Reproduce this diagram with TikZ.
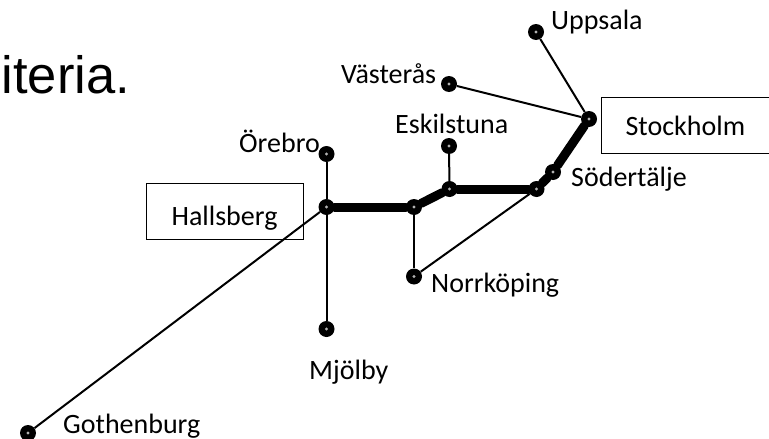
\documentclass[tikz,border=0pt]{standalone}
\usepackage{fontspec}
\setmainfont{Carlito}
\newfontfamily\headfont{Liberation Sans}
\usetikzlibrary{positioning}

\begin{document}
\begin{tikzpicture}[x=1pt,y=-1pt,
  stop/.style={circle,fill=black,inner sep=0pt,minimum size=16pt,
    path picture={\fill[black!30] (path picture bounding box.center) circle (1.6pt);}},
  thinline/.style={line width=2pt},
  mainline/.style={line width=9pt,line cap=round},
  place/.style={font=\fontsize{28}{28}\selectfont,inner sep=0pt,anchor=base west},
  stationbox/.style={draw,line width=1.2pt,font=\fontsize{28}{28}\selectfont,anchor=west,align=left,minimum height=56pt}]

  \useasboundingbox (0,0) rectangle (769,439);

  \node[font=\fontsize{52.5}{53}\selectfont\headfont,inner sep=0pt,anchor=base west] (heading) at (1.5,93) {iteria.};

  % boxes first, lines go over them
  \node[stationbox,text width=107pt,inner xsep=25pt,text height=28pt,text depth=0pt] (boxhallsberg) at (146,211.5) {Hallsberg};
  \node[stationbox,text width=150pt,inner xsep=24pt] (boxstockholm) at (601,125.5) {Stockholm};

  \node[stop] (uppsala) at (536,32) {};
  \node[stop] (vasteras) at (449,84) {};
  \node[stop] (stockholm) at (589,119) {};
  \node[stop] (sodertalje) at (553,172) {};
  \node[stop] (junction3) at (536.5,189) {};
  \node[stop] (junction2) at (449.5,189) {};
  \node[stop] (eskilstuna) at (449,146) {};
  \node[stop] (junction1) at (414,207) {};
  \node[stop] (hallsberg) at (326.5,207) {};
  \node[stop] (orebro) at (326.5,154) {};
  \node[stop] (mjolby) at (326.5,329) {};
  \node[stop] (norrkoping) at (414,276.5) {};
  \node[stop] (gothenburg) at (28,433) {};

  \node[place] (luppsala) at (551,29) {Uppsala};
  \node[place] (lvasteras) at (341,83) {Västerås};
  \node[place] (leskilstuna) at (395,133) {Eskilstuna};
  \node[place] (lorebro) at (239,152) {Örebro};
  \node[place] (lsodertalje) at (571,186) {Södertälje};
  \node[place] (lnorrkoping) at (431,292) {Norrköping};
  \node[place] (lmjolby) at (309,379) {Mjölby};
  \node[place] (lgothenburg) at (63,433) {Gothenburg};

  % the heavy route
  \draw[mainline] (hallsberg) -- (junction1);
  \draw[mainline] (junction1) -- (junction2);
  \draw[mainline] (junction2) -- (junction3);
  \draw[mainline] (junction3) -- (sodertalje);
  \draw[mainline] (sodertalje) -- (stockholm);

  % branches
  \draw[thinline] (uppsala) -- (stockholm);
  \draw[thinline] (vasteras) -- (stockholm);
  \draw[thinline] (eskilstuna) -- (junction2);
  \draw[thinline] (orebro) -- (hallsberg);
  \draw[thinline] (hallsberg) -- (mjolby);
  \draw[thinline] (hallsberg) -- (gothenburg);
  \draw[thinline] (junction1) -- (norrkoping);
  \draw[thinline] (norrkoping) -- (junction3);

\end{tikzpicture}
\end{document}
